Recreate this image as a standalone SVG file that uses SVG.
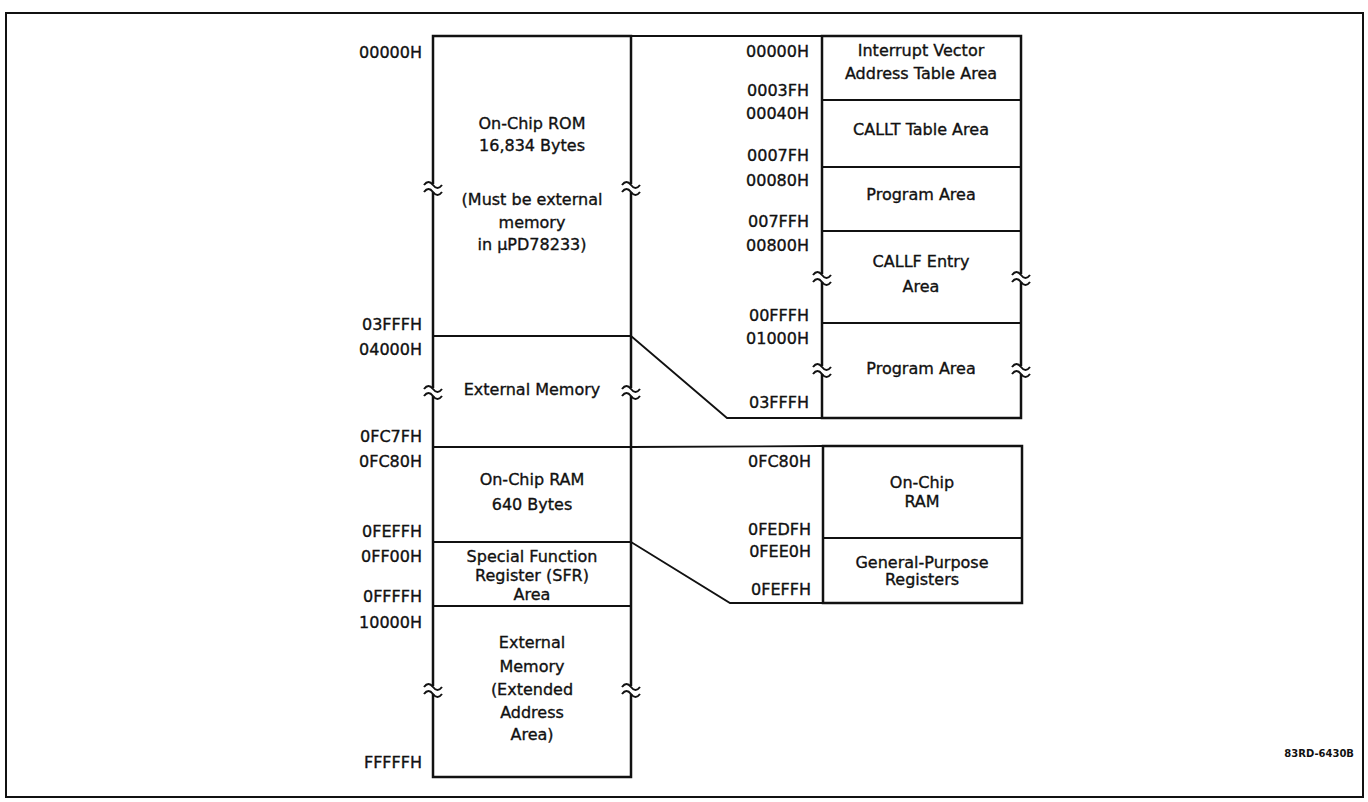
<svg xmlns="http://www.w3.org/2000/svg" width="1368" height="802" viewBox="0 0 1368 802">
<style>
text{font-family:"DejaVu Sans","Liberation Sans",sans-serif;font-size:16px;fill:#111;stroke:#111;stroke-width:0.35}
.l{text-anchor:end}
.c{text-anchor:middle}
.box{fill:none;stroke:#111;stroke-width:2.5}
.div{fill:none;stroke:#111;stroke-width:1.8}
.brk{fill:none;stroke:#111;stroke-width:2}
.gap{fill:#fff;stroke:none}
.ft{font-size:10px;font-weight:bold;stroke-width:0}
</style>
<defs>
<g id="brk">
<rect class="gap" x="-3" y="-4" width="6" height="8"/>
<path class="brk" d="M-9,-3 C-6,-7 -3,-7 0,-3 S6,1 9,-3"/>
<path class="brk" d="M-9,4 C-6,0 -3,0 0,4 S6,8 9,4"/>
</g>
</defs>
<rect x="0" y="0" width="1368" height="802" fill="#fff"/>
<rect id="frame" x="6" y="13" width="1357" height="784" fill="none" stroke="#111" stroke-width="2"/>

<g id="left-map">
<rect class="box" x="433" y="36" width="198" height="741"/>
<line class="div" x1="433" y1="336" x2="631" y2="336"/>
<line class="div" x1="433" y1="447" x2="631" y2="447"/>
<line class="div" x1="433" y1="542" x2="631" y2="542"/>
<line class="div" x1="433" y1="606" x2="631" y2="606"/>
</g>

<g id="rom">
<text class="c" x="532" y="129">On-Chip ROM</text>
<text class="c" x="532" y="151">16,834 Bytes</text>
<text class="c" x="532" y="205">(Must be external</text>
<text class="c" x="532" y="228">memory</text>
<text class="c" x="532" y="250">in µPD78233)</text>
<use href="#brk" x="433" y="188"/>
<use href="#brk" x="631" y="188"/>
</g>
<g id="ext-mem">
<text class="c" x="532" y="395">External Memory</text>
<use href="#brk" x="433" y="392"/>
<use href="#brk" x="631" y="392"/>
</g>
<g id="ram">
<text class="c" x="532" y="485">On-Chip RAM</text>
<text class="c" x="532" y="510">640 Bytes</text>
</g>
<g id="sfr">
<text class="c" x="532" y="562">Special Function</text>
<text class="c" x="532" y="581">Register (SFR)</text>
<text class="c" x="532" y="600">Area</text>
</g>
<g id="ext-ext">
<text class="c" x="532" y="648">External</text>
<text class="c" x="532" y="672">Memory</text>
<text class="c" x="532" y="695">(Extended</text>
<text class="c" x="532" y="718">Address</text>
<text class="c" x="532" y="740">Area)</text>
<use href="#brk" x="433" y="690"/>
<use href="#brk" x="631" y="690"/>
</g>
<g id="left-addr">
<text class="l" x="422" y="58">00000H</text>
<text class="l" x="422" y="330">03FFFH</text>
<text class="l" x="422" y="355">04000H</text>
<text class="l" x="422" y="442">0FC7FH</text>
<text class="l" x="422" y="467">0FC80H</text>
<text class="l" x="422" y="537">0FEFFH</text>
<text class="l" x="422" y="562">0FF00H</text>
<text class="l" x="422" y="602">0FFFFH</text>
<text class="l" x="422" y="628">10000H</text>
<text class="l" x="422" y="768">FFFFFH</text>
</g>

<g id="rom-detail">
<rect class="box" x="822" y="36" width="199" height="382"/>
<line class="div" x1="822" y1="100" x2="1021" y2="100"/>
<line class="div" x1="822" y1="167" x2="1021" y2="167"/>
<line class="div" x1="822" y1="231" x2="1021" y2="231"/>
<line class="div" x1="822" y1="323" x2="1021" y2="323"/>
<text class="c" x="921" y="56">Interrupt Vector</text>
<text class="c" x="921" y="79">Address Table Area</text>
<text class="c" x="921" y="135">CALLT Table Area</text>
<text class="c" x="921" y="200">Program Area</text>
<text class="c" x="921" y="267">CALLF Entry</text>
<text class="c" x="921" y="292">Area</text>
<text class="c" x="921" y="374">Program Area</text>
<use href="#brk" x="822" y="278"/>
<use href="#brk" x="1021" y="278"/>
<use href="#brk" x="822" y="370"/>
<use href="#brk" x="1021" y="370"/>
<text class="l" x="809" y="57">00000H</text>
<text class="l" x="809" y="96">0003FH</text>
<text class="l" x="809" y="119">00040H</text>
<text class="l" x="809" y="161">0007FH</text>
<text class="l" x="809" y="186">00080H</text>
<text class="l" x="809" y="227">007FFH</text>
<text class="l" x="809" y="251">00800H</text>
<text class="l" x="809" y="321">00FFFH</text>
<text class="l" x="809" y="344">01000H</text>
<text class="l" x="809" y="408">03FFFH</text>
</g>

<g id="ram-detail">
<rect class="box" x="823" y="446" width="199" height="157"/>
<line class="div" x1="823" y1="538" x2="1022" y2="538"/>
<text class="c" x="922" y="488">On-Chip</text>
<text class="c" x="922" y="507">RAM</text>
<text class="c" x="922" y="568">General-Purpose</text>
<text class="c" x="922" y="585">Registers</text>
<text class="l" x="811" y="467">0FC80H</text>
<text class="l" x="811" y="535">0FEDFH</text>
<text class="l" x="811" y="557">0FEE0H</text>
<text class="l" x="811" y="595">0FEFFH</text>
</g>

<g id="connectors" fill="none" stroke="#111" stroke-width="1.8">
<line x1="631" y1="36" x2="822" y2="36"/>
<polyline points="631,336 727,418 822,418"/>
<line x1="631" y1="447" x2="823" y2="446"/>
<polyline points="631,542 730,603 823,603"/>
</g>

<text class="l ft" x="1354" y="757">83RD-6430B</text>
</svg>
